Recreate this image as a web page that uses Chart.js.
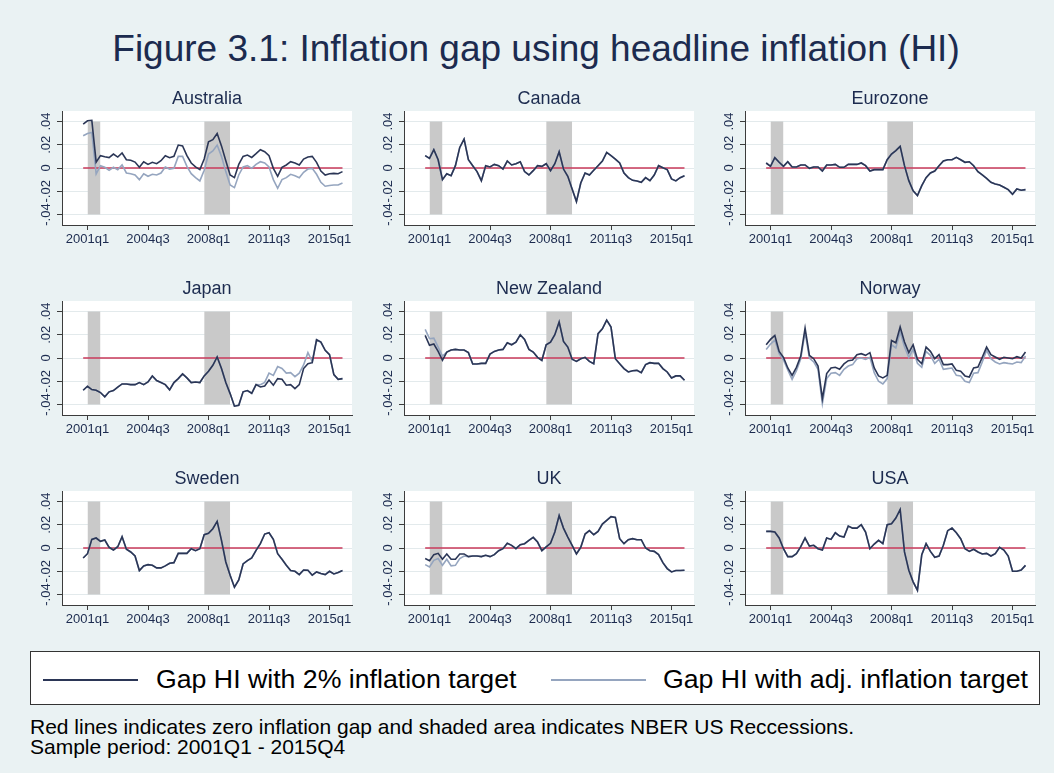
<!DOCTYPE html>
<html><head><meta charset="utf-8">
<script src="https://cdn.jsdelivr.net/npm/chart.js@4/dist/chart.umd.min.js"></script>
<style>
html,body{margin:0;padding:0}
body{background:#eaf2f3;width:1054px;height:773px;overflow:hidden;position:relative;font-family:"Liberation Sans",Arial,Helvetica,sans-serif}
#title{position:absolute;left:0;top:30px;width:1072px;text-align:center;font-size:37px;line-height:37px;color:#1c2b4f;white-space:nowrap}
canvas.panel{position:absolute}
#legend{position:absolute;left:30px;top:651px;width:1008px;height:52px;background:#fff;border:1px solid #333}
#legend .sw{position:absolute;top:27px;width:95px;height:2px}
#legend .lt{position:absolute;top:14px;font-size:26.7px;line-height:27px;color:#000;white-space:nowrap}
.note{position:absolute;left:30px;font-size:21px;line-height:21px;color:#000;white-space:nowrap}
</style>
</head><body>
<div id="title">Figure 3.1: Inflation gap using headline inflation (HI)</div>
<div id="legend">
  <span class="sw" style="left:12px;background:#2b3656"></span>
  <span class="lt" id="lt1" style="left:125px">Gap HI with 2% inflation target</span>
  <span class="sw" style="left:520px;background:#95a5bf"></span>
  <span class="lt" id="lt2" style="left:632px">Gap HI with adj. inflation target</span>
</div>
<div class="note" style="top:716px">Red lines indicates zero inflation gap and shaded area indicates NBER US Reccessions.</div>
<div class="note" style="top:736px">Sample period: 2001Q1 - 2015Q4</div>
<script>
// ---- categories ----
const quarters = [
 '2000q4',
 '2001q1','2001q2','2001q3','2001q4','2002q1','2002q2','2002q3','2002q4',
 '2003q1','2003q2','2003q3','2003q4','2004q1','2004q2','2004q3','2004q4',
 '2005q1','2005q2','2005q3','2005q4','2006q1','2006q2','2006q3','2006q4',
 '2007q1','2007q2','2007q3','2007q4','2008q1','2008q2','2008q3','2008q4',
 '2009q1','2009q2','2009q3','2009q4','2010q1','2010q2','2010q3','2010q4',
 '2011q1','2011q2','2011q3','2011q4','2012q1','2012q2','2012q3','2012q4',
 '2013q1','2013q2','2013q3','2013q4','2014q1','2014q2','2014q3','2014q4',
 '2015q1','2015q2','2015q3','2015q4'
];
const xTickLabels = ['2001q1','2004q3','2008q1','2011q3','2015q1'];
const yTickValues = [-0.04,-0.02,0,0.02,0.04];
const yTickLabels = ['-.04','-.02','0','.02','.04'];
const recessionStart = ['2001q1','2007q4'];
const recessionEnd   = ['2001q4','2009q2'];
const recessionTop = 0.04, recessionBottom = -0.04;
const countries = ['Australia','Canada','Eurozone','Japan','New Zealand','Norway','Sweden','UK','USA'];

// ---- series: gap with 2% target (HI) and with adjusted target (Adj) ----
const australiaHI = [
 0.0377,0.0406,0.041,0.005,0.0106,0.0097,0.009,0.012,0.0094,0.0129,
 0.0071,0.0066,0.0051,0.0006,0.0054,0.0031,0.0049,0.0037,0.0063,0.0106,
 0.0089,0.01,0.0197,0.019,0.0106,0.0043,0.0009,-0.0014,0.0077,0.0226,
 0.0243,0.0297,0.019,0.0063,-0.006,-0.0083,0.0031,0.01,0.0111,0.0091,
 0.0123,0.0157,0.014,0.0106,-0.0003,-0.0071,0.0006,0.0026,0.0054,0.0043,
 0.0026,0.0077,0.0094,0.01,0.0049,-0.0026,-0.006,-0.0049,-0.0046,-0.0049,
 -0.0031];
const australiaAdj = [
 0.0277,0.0297,0.0306,-0.0051,0.002,0.0006,-0.002,0.0006,-0.0014,0.0026,
 -0.0043,-0.0049,-0.006,-0.01,-0.0049,-0.0071,-0.0054,-0.006,-0.0043,0.0009,
 -0.0009,-0.0003,0.01,0.01,0.0014,-0.0049,-0.0083,-0.0111,-0.002,0.012,
 0.0146,0.0197,0.01,-0.0031,-0.0146,-0.0169,-0.006,0.0009,0.002,-0.0003,
 0.0031,0.0054,0.0043,0.0009,-0.01,-0.0174,-0.01,-0.0083,-0.0054,-0.0066,
 -0.0083,-0.0037,-0.0009,-0.0003,-0.0054,-0.0123,-0.0157,-0.0151,-0.0146,-0.0146,
 -0.0129];
const canadaHI = [
 0.0106,0.0083,0.0157,0.0071,-0.01,-0.0049,-0.0066,0.002,0.0177,0.0249,
 0.0071,0.002,-0.0031,-0.0109,0.002,0.0009,0.0031,0.002,-0.0009,0.006,
 0.0026,0.0037,0.0054,-0.0031,-0.006,-0.0023,0.002,0.0014,0.0037,-0.0023,
 0.0037,0.014,-0.0009,-0.0071,-0.018,-0.0289,-0.0129,-0.0043,-0.006,-0.002,
 0.002,0.006,0.0134,0.0106,0.0077,0.0043,-0.0043,-0.0083,-0.0106,-0.0111,
 -0.0123,-0.0083,-0.0109,-0.006,0.002,0.0003,-0.0014,-0.0094,-0.0111,-0.0083,
 -0.0066];
const canadaAdj = canadaHI;
const eurozoneHI = [
 0.0043,0.0014,0.0089,0.0049,0.0014,0.0054,0.0009,0.0009,0.0026,0.0026,
 -0.0003,0.0009,0.0009,-0.0026,0.0026,0.0026,0.0031,0.0006,0.0006,0.0031,
 0.0031,0.0031,0.0043,0.002,-0.0026,-0.0014,-0.0014,-0.0014,0.0071,0.012,
 0.0149,0.0186,0.002,-0.0109,-0.0197,-0.0237,-0.0151,-0.0083,-0.0043,-0.0026,
 0.002,0.006,0.0071,0.0071,0.0091,0.0071,0.0049,0.0054,0.002,-0.0031,
 -0.006,-0.0089,-0.0123,-0.0137,-0.0146,-0.0166,-0.0186,-0.0226,-0.018,-0.0191,
 -0.0186];
const eurozoneAdj = eurozoneHI;
const japanHI = [
 -0.0277,-0.0243,-0.0271,-0.0277,-0.0297,-0.0334,-0.0291,-0.028,-0.0251,-0.0223,
 -0.0223,-0.0229,-0.0229,-0.0211,-0.0229,-0.0206,-0.0154,-0.0194,-0.0211,-0.0229,
 -0.0274,-0.0211,-0.0177,-0.0137,-0.0171,-0.0211,-0.0206,-0.0211,-0.0154,-0.0114,
 -0.0063,0.0009,-0.0091,-0.0211,-0.0306,-0.0414,-0.0406,-0.0291,-0.028,-0.0303,
 -0.0229,-0.0249,-0.024,-0.0189,-0.0234,-0.0177,-0.0183,-0.0234,-0.0229,-0.0263,
 -0.0229,-0.0091,-0.0049,-0.004,0.0157,0.0137,0.0066,0.0029,-0.0143,-0.0183,
 -0.0177];
const japanAdj = [
 -0.0277,-0.0243,-0.0271,-0.0277,-0.0297,-0.0334,-0.0291,-0.028,-0.0251,-0.0223,
 -0.0223,-0.0229,-0.0229,-0.0211,-0.0229,-0.0206,-0.0154,-0.0194,-0.0211,-0.0229,
 -0.0274,-0.0211,-0.0177,-0.0137,-0.0171,-0.0211,-0.0206,-0.0211,-0.0154,-0.0114,
 -0.0063,0.0009,-0.0091,-0.0211,-0.0306,-0.0414,-0.0406,-0.0291,-0.028,-0.0303,
 -0.0229,-0.023,-0.021,-0.013,-0.015,-0.0074,-0.009,-0.013,-0.0126,-0.016,
 -0.013,-0.006,0.0046,-0.003,0.0157,0.0137,0.0066,0.0029,-0.0143,-0.0183,
 -0.0177];
const newZealandHI = [
 0.0194,0.0109,0.012,0.0057,-0.002,0.0051,0.0069,0.0074,0.0069,0.0069,
 0.0046,-0.0051,-0.0051,-0.0046,-0.0046,0.0034,0.0057,0.0069,0.0074,0.0131,
 0.0114,0.0137,0.02,0.016,0.0074,0.0051,0.0006,-0.002,0.0114,0.0137,
 0.02,0.0309,0.0143,0.0094,-0.0011,-0.0029,-0.0006,0.0006,-0.0029,-0.0049,
 0.0209,0.0251,0.0326,0.0266,-0.0006,-0.0049,-0.0091,-0.012,-0.0109,-0.0106,
 -0.0126,-0.0057,-0.004,-0.0046,-0.0046,-0.0091,-0.012,-0.0171,-0.0154,-0.0154,
 -0.0191];
const newZealandAdj = [
 0.0246,0.0166,0.0171,0.0094,0.0017,0.0051,0.0069,0.0074,0.0069,0.0069,
 0.0046,-0.0051,-0.0051,-0.0046,-0.0046,0.0034,0.0057,0.0069,0.0074,0.0131,
 0.0114,0.0137,0.02,0.016,0.0074,0.0051,0.0006,-0.002,0.0114,0.0137,
 0.02,0.0309,0.0143,0.0094,-0.0011,-0.0029,-0.0006,0.0006,-0.0029,-0.0049,
 0.0209,0.0251,0.0326,0.0266,-0.0006,-0.0049,-0.0091,-0.012,-0.0109,-0.0106,
 -0.0126,-0.0057,-0.004,-0.0046,-0.0046,-0.0091,-0.012,-0.0171,-0.0154,-0.0154,
 -0.0191];
const norwayHI = [
 0.0114,0.016,0.0194,0.0057,0.0006,-0.0086,-0.0149,-0.008,0.0017,0.0257,
 0.0023,-0.0006,-0.0069,-0.0349,-0.0134,-0.0086,-0.008,-0.0097,-0.0051,-0.0023,
 -0.0017,0.0029,0.0037,0.0023,0.0046,-0.0086,-0.0154,-0.0171,-0.0149,0.0151,
 0.0131,0.0266,0.0137,0.0046,0.0114,-0.0011,-0.0049,0.0094,0.0057,-0.0006,
 0.0029,-0.0057,-0.0057,-0.0051,-0.0106,-0.0114,-0.0154,-0.0163,-0.0086,-0.0077,
 0.0006,0.0094,0.0029,0.0009,-0.0011,0.0006,0,-0.0006,0.0011,0,
 0.0051];
const norwayAdj = [
 0.0074,0.012,0.0154,0.0037,-0.0017,-0.0103,-0.0183,-0.0109,-0.0006,0.0223,
 0,-0.0034,-0.0097,-0.0391,-0.0177,-0.0131,-0.0126,-0.0149,-0.0097,-0.0069,
 -0.0057,-0.0006,0,-0.0011,0.0006,-0.0126,-0.02,-0.0223,-0.0177,0.0114,
 0.0086,0.0223,0.0097,0.0006,0.0074,-0.0046,-0.008,0.0057,0.0023,-0.0046,
 -0.0011,-0.0097,-0.0091,-0.0086,-0.0149,-0.0154,-0.02,-0.0211,-0.0131,-0.0126,
 -0.0034,0.0066,-0.0006,-0.0034,-0.0051,-0.004,-0.0046,-0.0051,-0.0034,-0.004,
 0.0017];
const swedenHI = [
 -0.0086,-0.0049,0.0074,0.0086,0.0057,0.0069,0.0006,-0.0017,0.0011,0.0097,
 -0.0011,-0.0034,-0.0069,-0.0194,-0.0154,-0.0143,-0.0149,-0.0171,-0.0171,-0.0154,
 -0.0131,-0.0126,-0.0046,-0.0046,-0.0046,-0.0006,-0.0023,-0.0006,0.0114,0.0126,
 0.0166,0.0229,0.0066,-0.012,-0.0234,-0.0337,-0.0274,-0.0137,-0.0109,-0.0086,
 -0.002,0.0037,0.012,0.0131,0.0074,-0.0049,-0.0097,-0.0149,-0.0194,-0.02,
 -0.0229,-0.0189,-0.0191,-0.0234,-0.0206,-0.022,-0.0229,-0.02,-0.0223,-0.0211,
 -0.0194];
const swedenAdj = swedenHI;
const ukHI = [
 -0.0091,-0.0109,-0.0057,-0.0046,-0.0097,-0.0051,-0.0097,-0.0097,-0.0051,-0.0051,
 -0.0074,-0.0069,-0.0069,-0.0074,-0.0063,-0.0074,-0.0057,-0.0023,-0.0006,0.004,
 0.0023,-0.0006,0.0029,0.0037,0.0066,0.0091,0.0051,-0.0023,0.0009,0.004,
 0.0137,0.028,0.0171,0.0094,0.0023,-0.0051,0.0006,0.012,0.0149,0.0114,
 0.0143,0.0206,0.0237,0.0269,0.0263,0.008,0.0037,0.0071,0.008,0.0071,
 0.0071,0,-0.0023,-0.0029,-0.0057,-0.0126,-0.0177,-0.0206,-0.0194,-0.0194,
 -0.0191];
const ukAdj = [
 -0.0143,-0.0163,-0.0106,-0.0091,-0.0149,-0.0097,-0.0154,-0.0149,-0.0091,-0.0069,
 -0.0074,-0.0069,-0.0069,-0.0074,-0.0063,-0.0074,-0.0057,-0.0023,-0.0006,0.004,
 0.0023,-0.0006,0.0029,0.0037,0.0066,0.0091,0.0051,-0.0023,0.0009,0.004,
 0.0137,0.028,0.0171,0.0094,0.0023,-0.0051,0.0006,0.012,0.0149,0.0114,
 0.0143,0.0206,0.0237,0.0269,0.0263,0.008,0.0037,0.0071,0.008,0.0071,
 0.0071,0,-0.0023,-0.0029,-0.0057,-0.0126,-0.0177,-0.0206,-0.0194,-0.0194,
 -0.0191];
const usaHI = [
 0.0143,0.0143,0.0137,0.0086,-0.0006,-0.0074,-0.0074,-0.0049,0.0011,0.0086,
 0.0017,0.0023,-0.0006,-0.0017,0.0086,0.0074,0.0131,0.0103,0.0094,0.0189,
 0.0171,0.0171,0.02,0.0137,-0.0006,0.0034,0.0066,0.0037,0.02,0.0209,
 0.0257,0.0331,-0.0034,-0.0191,-0.0291,-0.0363,-0.0057,0.0037,-0.0029,-0.008,
 -0.0069,0.0023,0.0149,0.0171,0.0131,0.008,-0.0006,-0.0029,-0.0011,-0.0034,
 -0.0051,-0.0046,-0.0069,-0.0049,0.0006,-0.0017,-0.0069,-0.02,-0.02,-0.0189,
 -0.0149];
const usaAdj = usaHI;

const hiSeries  = [australiaHI, canadaHI, eurozoneHI, japanHI, newZealandHI, norwayHI, swedenHI, ukHI, usaHI];
const adjSeries = [australiaAdj, canadaAdj, eurozoneAdj, japanAdj, newZealandAdj, norwayAdj, swedenAdj, ukAdj, usaAdj];

// ---- helpers ----
function qIndex(q){ const y = +q.slice(0,4), n = +q.slice(5); return (y-2001)*4 + (n-1); }
const FONT = '"Liberation Sans", Arial, Helvetica, sans-serif';
const DARK = '#2b3656', LIGHT = '#95a5bf', ZERO = '#c8385a', SHADE = '#c9c9c9';
const TXT = '#1c2b4f', AXIS = '#3c3c3c', GRID = '#e3eaec';

const plotLefts = [62, 404, 745], plotTops = [111, 301, 491];
const PW = 290, PH = 114, LEFTW = 45, TOPH = 30, BOTH = 30, RIGHTW = 3;

const decor = {
  id: 'decor',
  beforeDraw(chart){
    const {ctx, chartArea:a} = chart;
    ctx.save(); ctx.fillStyle = '#ffffff';
    ctx.fillRect(a.left, a.top, a.right - a.left, a.bottom - a.top);
    ctx.restore();
  },
  afterDraw(chart){
    const {ctx, chartArea:a} = chart; const ys = chart.scales.y;
    ctx.save();
    ctx.font = '13px ' + FONT; ctx.fillStyle = TXT;
    ctx.textAlign = 'center'; ctx.textBaseline = 'middle';
    yTickValues.forEach((v,i) => {
      const py = ys.getPixelForValue(v);
      ctx.save(); ctx.translate(a.left - 16, py); ctx.rotate(-Math.PI/2);
      ctx.fillText(yTickLabels[i], 0, 0); ctx.restore();
    });
    ctx.restore();
  }
};

const xFirst = qIndex(quarters[0]), xLast = qIndex(quarters[quarters.length-1]);

countries.forEach((name, k) => {
  const c = k % 3, r = Math.floor(k / 3);
  const cv = document.createElement('canvas');
  cv.className = 'panel';
  cv.width = LEFTW + PW + RIGHTW; cv.height = TOPH + PH + BOTH;
  cv.style.left = (plotLefts[c] - LEFTW) + 'px';
  cv.style.top = (plotTops[r] - TOPH) + 'px';
  document.body.appendChild(cv);

  const toXY = arr => arr.map((v,i) => ({x: qIndex(quarters[i]), y: v}));
  const datasets = [
    {data: toXY(hiSeries[k]), borderColor: DARK, borderWidth: 1.6, order: 0},
    {data: toXY(adjSeries[k]), borderColor: LIGHT, borderWidth: 1.6, order: 1},
    {data: [{x:xFirst, y:0},{x:xLast, y:0}], borderColor: ZERO, borderWidth: 1.4, order: 2}
  ];
  recessionStart.forEach((s,i) => {
    datasets.push({data: [{x:qIndex(s), y:recessionTop},{x:qIndex(recessionEnd[i]), y:recessionTop}],
      borderWidth: 0, borderColor: 'rgba(0,0,0,0)', backgroundColor: SHADE, fill: {value: recessionBottom}, order: 3});
  });
  datasets.forEach(d => { d.pointRadius = 0; d.tension = 0; d.type = 'line'; });

  new Chart(cv, {
    type: 'line',
    data: {datasets},
    options: {
      responsive: false, animation: false, devicePixelRatio: 1,
      layout: {padding: {left: 0, right: RIGHTW, top: 0, bottom: 0}},
      plugins: {
        legend: {display: false}, tooltip: {enabled: false},
        title: {display: true, text: name, color: TXT, fullSize: false,
          font: {family: FONT, size: 18, weight: 'normal'}, padding: {top: 7, bottom: 1.4}}
      },
      scales: {
        x: {type: 'linear', min: -5.9, max: 61.2,
          afterBuildTicks: s => { s.ticks = xTickLabels.map(l => ({value: qIndex(l)})); },
          afterFit: s => { s.height = BOTH; },
          ticks: {callback: (v) => xTickLabels[xTickLabels.map(qIndex).indexOf(v)], color: TXT,
                  font: {family: FONT, size: 13}, padding: 2, maxRotation: 0, autoSkip: false},
          grid: {display: true, drawOnChartArea: false, drawTicks: true, tickLength: 5, tickColor: AXIS, lineWidth: 1},
          border: {display: true, color: AXIS, width: 1}
        },
        y: {type: 'linear', min: -0.049, max: 0.049,
          afterBuildTicks: s => { s.ticks = yTickValues.map(v => ({value: v})); },
          afterFit: s => { s.width = LEFTW; },
          ticks: {display: false},
          grid: {display: true, drawOnChartArea: true, drawTicks: true, tickLength: 5, color: GRID, tickColor: AXIS, lineWidth: 1},
          border: {display: true, color: AXIS, width: 1}
        }
      }
    },
    plugins: [decor]
  });
});
</script>
</body></html>
